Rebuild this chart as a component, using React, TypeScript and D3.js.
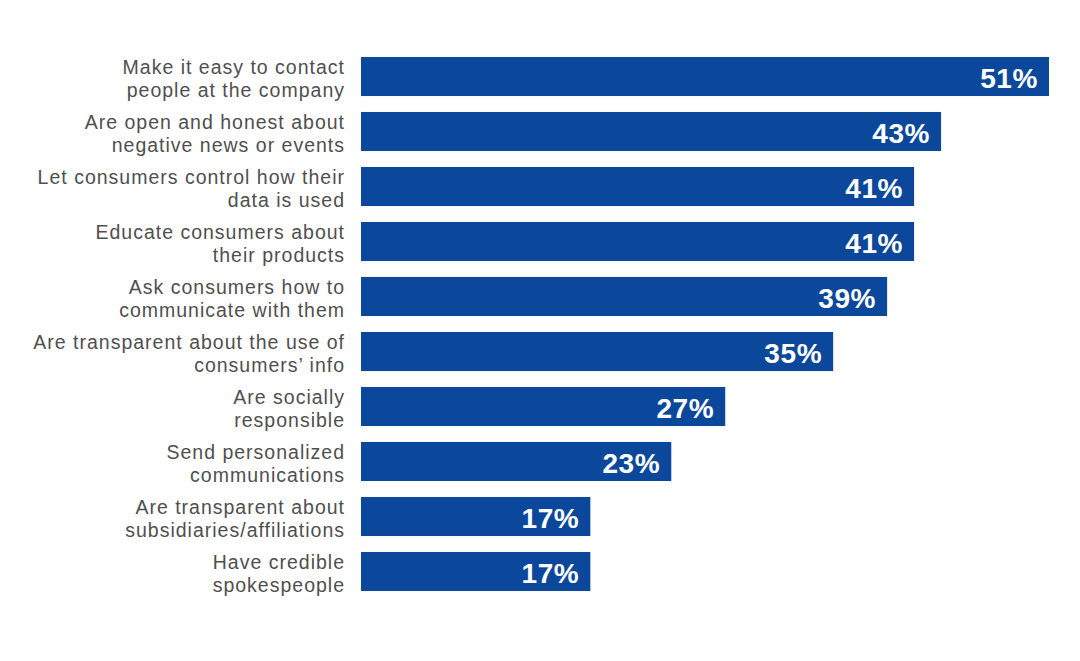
import React from "react";
import * as d3 from "d3";

const categories: string[][] = [
  ["Make it easy to contact", "people at the company"],
  ["Are open and honest about", "negative news or events"],
  ["Let consumers control how their", "data is used"],
  ["Educate consumers about", "their products"],
  ["Ask consumers how to", "communicate with them"],
  ["Are transparent about the use of", "consumers\u2019 info"],
  ["Are socially", "responsible"],
  ["Send personalized", "communications"],
  ["Are transparent about", "subsidiaries/affiliations"],
  ["Have credible", "spokespeople"],
];
const values: number[] = [51, 43, 41, 41, 39, 35, 27, 23, 17, 17];

const W = 1080;
const H = 661;

export default function App() {
  const x = d3.scaleLinear().domain([0, 51]).range([361, 1049]);
  const y = d3
    .scaleBand<number>()
    .domain(d3.range(values.length))
    .range([49, 599])
    .paddingInner(0.29)
    .paddingOuter(0.145);
  const bw = y.bandwidth();
  return (
    <div style={{ position: "absolute", left: 0, top: 0 }}>
      <svg width={W} height={H} style={{ display: "block", background: "#fff" }}>
        {values.map((v, i) => {
          const yy = y(i)!;
          const cy = yy + bw / 2;
          return (
            <g key={i}>
              <rect x={x(0)} y={yy} width={x(v) - x(0)} height={bw} fill="#0b479b" />
              <text
                x={x(v) - 11}
                y={cy + 1}
                dy="0.36em"
                textAnchor="end"
                fill="#fff"
                fontFamily="'Liberation Sans', Arial, sans-serif"
                fontWeight="bold"
                fontSize={28}
                letterSpacing={0.6}
              >
                {v}%
              </text>
              {categories[i].map((line, j) => (
                <text
                  key={j}
                  x={345}
                  y={cy + (j === 0 ? -9.5 : 13)}
                  dy="0.36em"
                  textAnchor="end"
                  fill="#4f4f4f"
                  fontFamily="'Liberation Sans', Arial, sans-serif"
                  fontSize={19.5}
                  letterSpacing={1}
                >
                  {line}
                </text>
              ))}
            </g>
          );
        })}
      </svg>
    </div>
  );
}
